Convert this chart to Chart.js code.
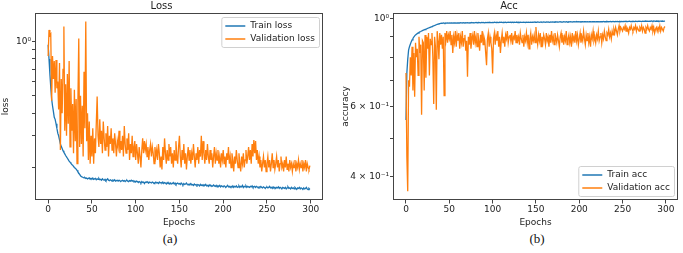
<!DOCTYPE html>
<html>
<head>
<meta charset="utf-8">
<script src="https://cdn.jsdelivr.net/npm/chart.js@4.4.1/dist/chart.umd.min.js"></script>
<style>
  html, body { margin: 0; padding: 0; background: #fff; }
  #page { position: relative; width: 683px; height: 253px; overflow: hidden; }
  canvas { position: absolute; top: 0; }
  #loss-chart { left: 0; }
  #acc-chart { left: 340px; }
  .cap { position: absolute; top: 231px; font-family: "Liberation Serif", serif; font-size: 13px; line-height: 15px; color: #111; transform: translateX(-50%); }
</style>
</head>
<body>
<div id="page">
  <canvas id="loss-chart" width="340" height="228"></canvas>
  <canvas id="acc-chart" width="343" height="228"></canvas>
  <div class="cap" style="left:170px">(a)</div>
  <div class="cap" style="left:537px">(b)</div>
</div>
<script>
const epochTicks = [0, 50, 100, 150, 200, 250, 300];

const lossTicks = [0.2, 0.3, 0.4, 0.5, 0.6, 0.7, 0.8, 0.9, 1];
const lossTickLabels = ['', '', '', '', '', '', '', '', '10⁰'];
const accTicks = [0.4, 0.5, 0.6, 0.7, 0.8, 0.9, 1];
const accTickLabels = ['4 × 10⁻¹', '', '6 × 10⁻¹', '', '', '', '10⁰'];

const trainLoss = [
  0.96, 0.80, 0.66, 0.56, 0.48, 0.44, 0.41, 0.38, 0.37, 0.35,
  0.33, 0.31, 0.30, 0.285, 0.27, 0.262, 0.255, 0.248, 0.243, 0.238,
  0.233, 0.229, 0.225, 0.221, 0.217, 0.214, 0.211, 0.208, 0.206, 0.203,
  0.200, 0.198, 0.196, 0.193, 0.189, 0.186, 0.183, 0.180, 0.178, 0.177,
  0.176, 0.175, 0.176, 0.174, 0.175, 0.173, 0.174, 0.175, 0.172, 0.174,
  0.173, 0.175, 0.172, 0.173, 0.174, 0.171, 0.173, 0.172, 0.174, 0.171,
  0.172, 0.170, 0.173, 0.171, 0.170, 0.172, 0.169, 0.171, 0.173, 0.170,
  0.169, 0.171, 0.170, 0.168, 0.170, 0.169, 0.171, 0.168, 0.169, 0.170,
  0.168, 0.170, 0.169, 0.167, 0.169, 0.170, 0.168, 0.169, 0.167, 0.169,
  0.170, 0.168, 0.167, 0.169, 0.168, 0.170, 0.168, 0.169, 0.167, 0.168,
  0.166, 0.168, 0.167, 0.165, 0.167, 0.166, 0.164, 0.167, 0.165, 0.166,
  0.163, 0.166, 0.165, 0.167, 0.165, 0.164, 0.166, 0.165, 0.164, 0.166,
  0.165, 0.163, 0.165, 0.166, 0.164, 0.165, 0.163, 0.166, 0.164, 0.165,
  0.164, 0.166, 0.163, 0.165, 0.164, 0.162, 0.165, 0.163, 0.164, 0.162,
  0.164, 0.162, 0.163, 0.165, 0.162, 0.164, 0.161, 0.163, 0.164, 0.162,
  0.163, 0.161, 0.164, 0.162, 0.160, 0.163, 0.161, 0.162, 0.164, 0.161,
  0.160, 0.162, 0.161, 0.163, 0.160, 0.161, 0.159, 0.162, 0.160, 0.161,
  0.159, 0.161, 0.160, 0.158, 0.161, 0.159, 0.160, 0.158, 0.160, 0.159,
  0.161, 0.158, 0.159, 0.157, 0.160, 0.158, 0.159, 0.157, 0.158, 0.160,
  0.158, 0.157, 0.159, 0.156, 0.158, 0.157, 0.159, 0.156, 0.158, 0.157,
  0.156, 0.158, 0.157, 0.155, 0.157, 0.159, 0.156, 0.157, 0.155, 0.157,
  0.156, 0.158, 0.155, 0.157, 0.156, 0.158, 0.155, 0.156, 0.158, 0.155,
  0.157, 0.156, 0.159, 0.155, 0.157, 0.156, 0.158, 0.155, 0.157, 0.156,
  0.155, 0.157, 0.156, 0.158, 0.155, 0.156, 0.157, 0.155, 0.157, 0.156,
  0.154, 0.156, 0.155, 0.157, 0.155, 0.154, 0.156, 0.155, 0.153, 0.155,
  0.156, 0.154, 0.155, 0.157, 0.154, 0.155, 0.153, 0.156, 0.154, 0.155,
  0.153, 0.155, 0.154, 0.156, 0.153, 0.155, 0.154, 0.152, 0.155, 0.154,
  0.153, 0.155, 0.152, 0.154, 0.156, 0.153, 0.154, 0.152, 0.155, 0.153,
  0.154, 0.152, 0.155, 0.153, 0.151, 0.154, 0.153, 0.155, 0.152, 0.154,
  0.153, 0.151, 0.154, 0.152, 0.153, 0.155, 0.152, 0.151, 0.153, 0.151
];

const valLoss = [
  0.83, 1.16, 1.08, 1.10, 0.47, 0.83, 0.62, 0.78, 0.52, 0.79,
  0.55, 0.60, 0.42, 0.76, 0.25, 0.62, 0.40, 0.70, 1.21, 0.32,
  0.58, 0.30, 0.66, 0.35, 0.78, 0.26, 0.55, 0.32, 0.45, 0.24,
  0.54, 0.28, 0.48, 0.21, 0.46, 1.04, 0.26, 0.50, 0.27, 0.44,
  0.23, 0.68, 0.33, 1.29, 0.28, 0.40, 0.22, 0.36, 0.21, 0.30,
  0.23, 0.33, 0.21, 0.29, 0.24, 0.35, 0.495, 0.30, 0.26, 0.37,
  0.27, 0.32, 0.24, 0.36, 0.29, 0.25, 0.31, 0.26, 0.34, 0.23,
  0.30, 0.27, 0.33, 0.25, 0.29, 0.24, 0.31, 0.27, 0.23, 0.28,
  0.26, 0.32, 0.24, 0.28, 0.25, 0.30, 0.23, 0.34, 0.27, 0.24,
  0.29, 0.25, 0.31, 0.22, 0.27, 0.24, 0.30, 0.23, 0.26, 0.28,
  0.22, 0.27, 0.24, 0.21, 0.26, 0.23, 0.20, 0.25, 0.29, 0.24,
  0.28, 0.25, 0.27, 0.23, 0.26, 0.22, 0.25, 0.27, 0.23, 0.26,
  0.24, 0.21, 0.26, 0.23, 0.25, 0.22, 0.27, 0.24, 0.20, 0.23,
  0.195, 0.26, 0.22, 0.29, 0.24, 0.21, 0.25, 0.22, 0.27, 0.23,
  0.26, 0.21, 0.24, 0.20, 0.25, 0.22, 0.28, 0.23, 0.21, 0.26,
  0.30, 0.23, 0.20, 0.25, 0.22, 0.27, 0.21, 0.24, 0.195, 0.23,
  0.26, 0.22, 0.25, 0.21, 0.24, 0.22, 0.27, 0.23, 0.20, 0.24,
  0.22, 0.26, 0.21, 0.25, 0.23, 0.30, 0.22, 0.28, 0.24, 0.21,
  0.25, 0.22, 0.27, 0.23, 0.21, 0.25, 0.22, 0.24, 0.20, 0.23,
  0.26, 0.21, 0.24, 0.22, 0.25, 0.21, 0.23, 0.20, 0.24, 0.22,
  0.25, 0.21, 0.23, 0.20, 0.24, 0.22, 0.26, 0.21, 0.23, 0.20,
  0.24, 0.22, 0.19, 0.23, 0.21, 0.25, 0.22, 0.20, 0.24, 0.21,
  0.19, 0.23, 0.21, 0.24, 0.20, 0.22, 0.25, 0.21, 0.23, 0.26,
  0.22, 0.25, 0.21, 0.27, 0.23, 0.284, 0.24, 0.28, 0.22, 0.25,
  0.21, 0.23, 0.20, 0.22, 0.19, 0.21, 0.23, 0.20, 0.22, 0.19,
  0.21, 0.23, 0.20, 0.22, 0.19, 0.21, 0.24, 0.20, 0.22, 0.195,
  0.21, 0.23, 0.20, 0.22, 0.19, 0.21, 0.23, 0.20, 0.21, 0.19,
  0.22, 0.20, 0.23, 0.195, 0.21, 0.19, 0.22, 0.20, 0.21, 0.19,
  0.21, 0.20, 0.22, 0.19, 0.21, 0.20, 0.22, 0.195, 0.21, 0.20,
  0.22, 0.19, 0.21, 0.20, 0.22, 0.19, 0.21, 0.20, 0.195, 0.205
];

const trainAcc = [
  0.556, 0.73, 0.79, 0.833, 0.85, 0.862, 0.874, 0.884, 0.892, 0.899,
  0.905, 0.910, 0.914, 0.917, 0.920, 0.923, 0.926, 0.928, 0.931, 0.933,
  0.935, 0.937, 0.939, 0.941, 0.943, 0.945, 0.947, 0.949, 0.951, 0.953,
  0.955, 0.957, 0.959, 0.961, 0.963, 0.965, 0.967, 0.969, 0.971, 0.972,
  0.973, 0.974, 0.973, 0.975, 0.974, 0.973, 0.975, 0.974, 0.975, 0.974,
  0.975, 0.974, 0.976, 0.975, 0.974, 0.976, 0.975, 0.976, 0.974, 0.976,
  0.975, 0.976, 0.975, 0.977, 0.976, 0.975, 0.977, 0.976, 0.975, 0.977,
  0.976, 0.977, 0.976, 0.975, 0.977, 0.976, 0.978, 0.976, 0.977, 0.976,
  0.977, 0.978, 0.976, 0.977, 0.978, 0.977, 0.976, 0.978, 0.977, 0.978,
  0.977, 0.976, 0.978, 0.977, 0.978, 0.977, 0.979, 0.977, 0.978, 0.977,
  0.978, 0.977, 0.979, 0.978, 0.977, 0.979, 0.978, 0.977, 0.979, 0.978,
  0.979, 0.978, 0.977, 0.979, 0.978, 0.979, 0.977, 0.978, 0.979, 0.978,
  0.978, 0.979, 0.978, 0.980, 0.978, 0.979, 0.978, 0.979, 0.980, 0.978,
  0.979, 0.978, 0.980, 0.979, 0.978, 0.979, 0.980, 0.979, 0.978, 0.980,
  0.979, 0.980, 0.978, 0.979, 0.980, 0.979, 0.980, 0.979, 0.981, 0.979,
  0.980, 0.979, 0.981, 0.980, 0.979, 0.980, 0.981, 0.979, 0.980, 0.981,
  0.980, 0.979, 0.981, 0.980, 0.981, 0.980, 0.979, 0.981, 0.980, 0.981,
  0.980, 0.981, 0.980, 0.982, 0.980, 0.981, 0.980, 0.981, 0.982, 0.980,
  0.981, 0.980, 0.982, 0.981, 0.980, 0.982, 0.981, 0.980, 0.982, 0.981,
  0.982, 0.981, 0.980, 0.982, 0.981, 0.982, 0.981, 0.983, 0.981, 0.982,
  0.981, 0.982, 0.981, 0.983, 0.982, 0.981, 0.982, 0.983, 0.981, 0.982,
  0.982, 0.981, 0.983, 0.982, 0.981, 0.983, 0.982, 0.982, 0.983, 0.981,
  0.982, 0.983, 0.982, 0.981, 0.983, 0.982, 0.983, 0.982, 0.984, 0.982,
  0.983, 0.982, 0.984, 0.983, 0.982, 0.983, 0.984, 0.982, 0.983, 0.984,
  0.983, 0.982, 0.984, 0.983, 0.984, 0.983, 0.982, 0.984, 0.983, 0.984,
  0.983, 0.984, 0.983, 0.985, 0.983, 0.984, 0.983, 0.984, 0.985, 0.983,
  0.984, 0.983, 0.985, 0.984, 0.983, 0.985, 0.984, 0.983, 0.985, 0.984,
  0.985, 0.984, 0.983, 0.985, 0.984, 0.985, 0.984, 0.986, 0.984, 0.985,
  0.984, 0.985, 0.984, 0.986, 0.985, 0.984, 0.986, 0.985, 0.984, 0.986,
  0.985, 0.986, 0.984, 0.985, 0.986, 0.985, 0.986, 0.984, 0.985, 0.986
];

const valAcc = [
  0.73, 0.45, 0.368, 0.70, 0.674, 0.80, 0.72, 0.85, 0.66, 0.82,
  0.636, 0.87, 0.80, 0.84, 0.72, 0.90, 0.82, 0.86, 0.573, 0.88,
  0.87, 0.66, 0.91, 0.71, 0.90, 0.84, 0.92, 0.72, 0.89, 0.86,
  0.92, 0.80, 0.61, 0.90, 0.85, 0.59, 0.93, 0.88, 0.79, 0.92,
  0.86, 0.91, 0.84, 0.90, 0.64, 0.92, 0.88, 0.93, 0.87, 0.91,
  0.89, 0.93, 0.86, 0.91, 0.82, 0.90, 0.87, 0.93, 0.85, 0.91,
  0.88, 0.92, 0.84, 0.90, 0.87, 0.93, 0.85, 0.89, 0.91, 0.83,
  0.88, 0.714, 0.90, 0.86, 0.92, 0.84, 0.89, 0.91, 0.86, 0.93,
  0.87, 0.90, 0.85, 0.92, 0.88, 0.83, 0.91, 0.87, 0.93, 0.86,
  0.90, 0.88, 0.82, 0.764, 0.89, 0.92, 0.85, 0.90, 0.87, 0.84,
  0.728, 0.89, 0.92, 0.86, 0.91, 0.88, 0.93, 0.85, 0.90, 0.82,
  0.88, 0.92, 0.87, 0.90, 0.85, 0.91, 0.89, 0.93, 0.87, 0.90,
  0.91, 0.88, 0.92, 0.86, 0.90, 0.89, 0.93, 0.87, 0.91, 0.88,
  0.90, 0.86, 0.92, 0.89, 0.87, 0.91, 0.85, 0.90, 0.88, 0.92,
  0.87, 0.91, 0.84, 0.89, 0.92, 0.86, 0.90, 0.88, 0.91, 0.87,
  0.953, 0.89, 0.86, 0.91, 0.88, 0.92, 0.85, 0.90, 0.87, 0.91,
  0.89, 0.86, 0.92, 0.88, 0.90, 0.85, 0.91, 0.87, 0.93, 0.88,
  0.90, 0.86, 0.92, 0.89, 0.87, 0.91, 0.88, 0.85, 0.90, 0.92,
  0.87, 0.91, 0.86, 0.90, 0.88, 0.93, 0.86, 0.89, 0.91, 0.87,
  0.90, 0.85, 0.92, 0.88, 0.90, 0.87, 0.93, 0.88, 0.91, 0.86,
  0.89, 0.92, 0.87, 0.90, 0.88, 0.93, 0.89, 0.86, 0.91, 0.88,
  0.92, 0.87, 0.90, 0.85, 0.91, 0.89, 0.93, 0.88, 0.90, 0.87,
  0.91, 0.89, 0.93, 0.88, 0.90, 0.92, 0.87, 0.91, 0.89, 0.93,
  0.90, 0.88, 0.92, 0.91, 0.94, 0.90, 0.92, 0.89, 0.93, 0.91,
  0.94, 0.92, 0.95, 0.93, 0.91, 0.94, 0.96, 0.93, 0.95, 0.94,
  0.93, 0.95, 0.94, 0.96, 0.93, 0.95, 0.94, 0.92, 0.95, 0.94,
  0.96, 0.94, 0.93, 0.95, 0.94, 0.96, 0.93, 0.95, 0.94, 0.93,
  0.95, 0.94, 0.96, 0.93, 0.95, 0.94, 0.92, 0.95, 0.94, 0.96,
  0.94, 0.93, 0.95, 0.94, 0.96, 0.93, 0.95, 0.92, 0.94, 0.95,
  0.93, 0.95, 0.94, 0.96, 0.93, 0.95, 0.94, 0.93, 0.95, 0.955
];

const BLUE = '#1f77b4';
const ORANGE = '#ff7f0e';

Chart.defaults.font.family = '"DejaVu Sans", sans-serif';
Chart.defaults.font.size = 9;
Chart.defaults.color = '#222';

function points(arr) {
  return arr.map((v, i) => ({ x: i, y: v }));
}

// matplotlib-ish frame around the plot area
const frameBox = {
  id: 'frameBox',
  afterDraw(chart) {
    const a = chart.chartArea, ctx = chart.ctx;
    ctx.save();
    ctx.strokeStyle = '#444';
    ctx.lineWidth = 1;
    ctx.strokeRect(Math.round(a.left) + 0.5, Math.round(a.top) + 0.5,
      Math.round(a.right - a.left) - 1, Math.round(a.bottom - a.top) - 1);
    ctx.restore();
  }
};

// legend drawn inside the plot area
const insideLegend = {
  id: 'insideLegend',
  afterDatasetsDraw(chart, args, opts) {
    const a = chart.chartArea, ctx = chart.ctx;
    const sets = chart.data.datasets;
    ctx.save();
    ctx.font = '9px "DejaVu Sans", sans-serif';
    const tw = Math.max(...sets.map(d => ctx.measureText(d.label).width));
    const rowH = 13;
    const w = 4 + 20 + 5 + tw + 4;
    const h = sets.length * rowH + 4;
    const x = a.right - 4 - w;
    const y = opts.corner === 'lower' ? a.bottom - 4 - h : a.top + 4;
    ctx.fillStyle = 'rgba(255,255,255,0.85)';
    ctx.strokeStyle = '#d0d0d0';
    ctx.lineWidth = 1;
    ctx.beginPath();
    if (ctx.roundRect) ctx.roundRect(x + 0.5, y + 0.5, w, h, 2);
    else ctx.rect(x + 0.5, y + 0.5, w, h);
    ctx.fill();
    ctx.stroke();
    sets.forEach((d, i) => {
      const cy = y + 2 + rowH * i + rowH / 2 + 0.5;
      ctx.strokeStyle = d.borderColor;
      ctx.lineWidth = 1.5;
      ctx.beginPath();
      ctx.moveTo(x + 4, cy);
      ctx.lineTo(x + 24, cy);
      ctx.stroke();
      ctx.fillStyle = '#222';
      ctx.textBaseline = 'middle';
      ctx.fillText(d.label, x + 29, cy);
    });
    ctx.restore();
  }
};

function makeChart(id, cfg) {
  return new Chart(document.getElementById(id).getContext('2d'), {
    type: 'line',
    data: {
      datasets: [
        { label: cfg.names[0], data: points(cfg.series[0]), borderColor: BLUE, borderWidth: 1.3, pointRadius: 0, order: 1 },
        { label: cfg.names[1], data: points(cfg.series[1]), borderColor: ORANGE, borderWidth: 1.3, pointRadius: 0, order: 0 }
      ]
    },
    options: {
      responsive: false,
      animation: false,
      layout: { padding: { left: 0, right: cfg.padRight, top: 0, bottom: 0 } },
      scales: {
        x: {
          type: 'linear',
          min: -15,
          max: 314,
          afterBuildTicks: s => { s.ticks = epochTicks.map(v => ({ value: v })); },
          afterFit: s => { s.height = 28; },
          grid: { drawOnChartArea: false, tickLength: 3.5, tickColor: '#444' },
          border: { display: false },
          ticks: { padding: 1, maxRotation: 0 },
          title: { display: true, text: 'Epochs', padding: { top: 0, bottom: 0 } }
        },
        y: {
          type: 'logarithmic',
          min: cfg.yMin,
          max: cfg.yMax,
          afterBuildTicks: s => { s.ticks = cfg.ticks.map(v => ({ value: v })); },
          afterFit: s => { s.width = cfg.yWidth; },
          grid: { drawOnChartArea: false, tickLength: 3, tickColor: '#444' },
          border: { display: false },
          ticks: {
            padding: 1,
            callback: v => cfg.tickLabels[cfg.ticks.indexOf(v)] ?? ''
          },
          title: { display: true, text: cfg.yTitle, padding: { top: 0, bottom: 0 } }
        }
      },
      plugins: {
        legend: { display: false },
        tooltip: { enabled: false },
        title: { display: true, text: cfg.title, font: { size: 10, weight: 'normal' }, padding: { top: 0, bottom: 1 } },
        insideLegend: { corner: cfg.corner }
      }
    },
    plugins: [frameBox, insideLegend]
  });
}

makeChart('loss-chart', {
  names: ['Train loss', 'Validation loss'],
  series: [trainLoss, valLoss],
  title: 'Loss',
  yTitle: 'loss',
  yMin: 0.132,
  yMax: 1.44,
  ticks: lossTicks,
  tickLabels: lossTickLabels,
  yWidth: 35,
  padRight: 17,
  corner: 'upper'
});

makeChart('acc-chart', {
  names: ['Train acc', 'Validation acc'],
  series: [trainAcc, valAcc],
  title: 'Acc',
  yTitle: 'accuracy',
  yMin: 0.35,
  yMax: 1.033,
  ticks: accTicks,
  tickLabels: accTickLabels,
  yWidth: 53,
  padRight: 5,
  corner: 'lower'
});
</script>
</body>
</html>
